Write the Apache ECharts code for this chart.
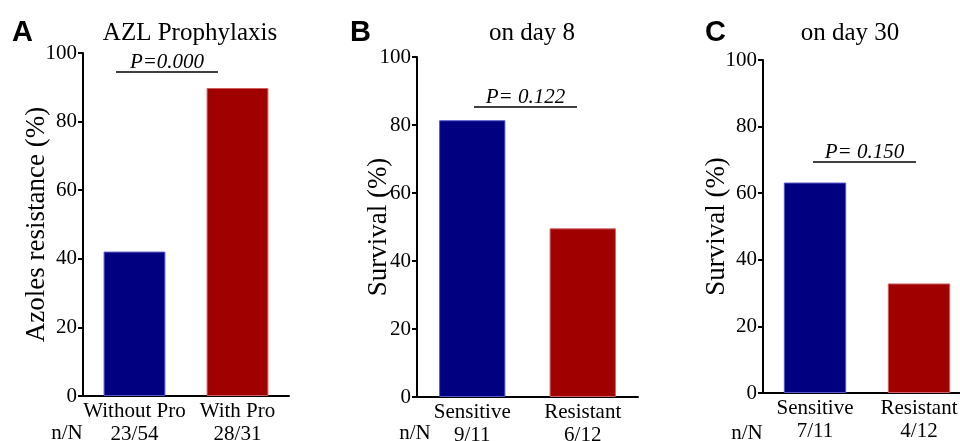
<!DOCTYPE html>
<html>
<head>
<meta charset="utf-8">
<script src="https://cdn.jsdelivr.net/npm/echarts@6/dist/echarts.min.js"></script>
<style>html,body{margin:0;padding:0;background:#fff}#c{width:960px;height:441px}</style>
</head>
<body>
<div id="c"></div>
<script>
// ---- data ----
const panelLetters = ['A', 'B', 'C'];
const panelTitles = ['AZL Prophylaxis', 'on day 8', 'on day 30'];
const yNames = ['Azoles resistance (%)', 'Survival (%)', 'Survival (%)'];
const catsA = ['Without Pro', 'With Pro'];
const catsB = ['Sensitive', 'Resistant'];
const catsC = ['Sensitive', 'Resistant'];
const countsA = ['23/54', '28/31'];
const countsB = ['9/11', '6/12'];
const countsC = ['7/11', '4/12'];
const valuesA = [42.1, 89.8];
const valuesB = [81.4, 49.6];
const valuesC = [63.2, 32.9];
const pValues = ['P=0.000', 'P= 0.122', 'P= 0.150'];
const yTicks = [0, 20, 40, 60, 80, 100];

const cats = [catsA, catsB, catsC];
const counts = [countsA, countsB, countsC];
const values = [valuesA, valuesB, valuesC];
const barColors = ['#000080', '#a00000'];

const serif = 'Liberation Serif';
const grids = [
  {left: 83, top: 53, width: 206, height: 343},
  {left: 417, top: 57, width: 221, height: 340},
  {left: 763, top: 60, width: 208, height: 333}
];
const letterPos = [[12, 18], [350, 18], [705, 18]];
const titleX = [190, 532, 850];
const nameGaps = [33, 25, 33];
// significance annotation: [x1, x2, y]
const sig = [[116, 218, 72], [474, 577, 107], [813, 916, 162]];
const nNx = [67, 415, 747];

const option = {
  animation: false,
  grid: grids.map(g => Object.assign({containLabel: false, outerBoundsMode: 'none'}, g)),
  xAxis: grids.map((g, i) => ({
    type: 'category', gridIndex: i, data: cats[i],
    axisLine: {lineStyle: {color: '#000', width: 2}},
    axisTick: {alignWithLabel: true, length: 4, lineStyle: {color: '#555', width: 1}},
    axisLabel: {
      color: '#000', fontFamily: serif, fontSize: 21, margin: 4, lineHeight: 23,
      interval: 0, hideOverlap: false,
      formatter: (v, idx) => v + '\n' + counts[i][idx]
    }
  })),
  yAxis: grids.map((g, i) => ({
    type: 'value', gridIndex: i, min: 0, max: 100, interval: 20,
    name: yNames[i], nameLocation: 'middle', nameRotate: 90, nameGap: nameGaps[i],
    nameMoveOverlap: false,
    nameTextStyle: {color: '#000', fontFamily: serif, fontSize: 27},
    splitLine: {show: false},
    axisLine: {show: true, lineStyle: {color: '#000', width: 2}},
    axisTick: {show: true, length: 5, lineStyle: {color: '#000', width: 2}},
    axisLabel: {color: '#000', fontFamily: serif, fontSize: 21, margin: 6,
      formatter: v => yTicks.indexOf(v) >= 0 ? String(v) : ''}
  })),
  series: grids.map((g, i) => ({
    type: 'bar', xAxisIndex: i, yAxisIndex: i, barWidth: '60%',
    data: values[i].map((v, k) => ({value: v, itemStyle: {color: barColors[k], borderColor: k === 0 ? '#5858c8' : '#d06060', borderWidth: 1}}))
  })),
  graphic: [].concat(
    panelLetters.map((t, i) => ({type: 'text', left: letterPos[i][0], top: letterPos[i][1],
      style: {text: t, font: 'bold 29px "Liberation Sans"', fill: '#000'}})),
    panelTitles.map((t, i) => ({type: 'text', x: titleX[i], y: 33,
      style: {text: t, font: '25px "Liberation Serif"', fill: '#000', align: 'center', verticalAlign: 'middle'}})),
    pValues.map((t, i) => ({type: 'text', x: (sig[i][0] + sig[i][1]) / 2, y: sig[i][2] - 10,
      style: {text: t, font: 'italic 21px "Liberation Serif"', fill: '#000', align: 'center', verticalAlign: 'middle'}})),
    sig.map(s => ({type: 'line', shape: {x1: s[0], y1: s[2], x2: s[1], y2: s[2]},
      style: {stroke: '#000', lineWidth: 1.5}})),
    nNx.map(x => ({type: 'text', x: x, y: 433,
      style: {text: 'n/N', font: '21px "Liberation Serif"', fill: '#000', align: 'center', verticalAlign: 'middle'}}))
  )
};
const chart = echarts.init(document.getElementById('c'));
chart.setOption(option);
</script>
</body>
</html>
